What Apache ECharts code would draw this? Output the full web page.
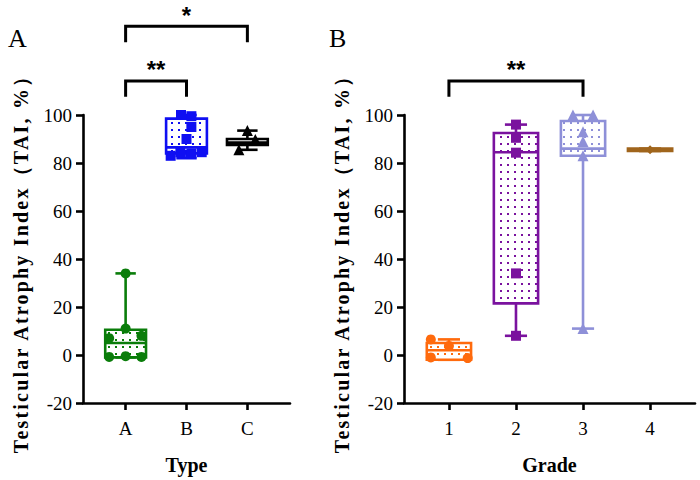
<!DOCTYPE html>
<html>
<head>
<meta charset="utf-8">
<script src="https://cdn.jsdelivr.net/npm/echarts@6/dist/echarts.min.js"></script>
<style>
  html, body { margin: 0; padding: 0; background: #fff; }
  #chart { width: 700px; height: 480px; }
</style>
</head>
<body>
<div id="chart"></div>
<script>
// categories
const typeCats = ['A', 'B', 'C'];
const gradeCats = ['1', '2', '3', '4'];

// box stats: [min, Q1, median, Q3, max]
const typeBoxes = [
  [-1, -1, 5, 10.5, 34],
  [82, 84, 86.5, 98.5, 100],
  [85.5, 87.5, 88.5, 90, 93.5]
];
const gradeBoxes = [
  [-2, -2, 2, 5, 6.5],
  [8, 21.5, 84.5, 92.5, 96],
  [11, 83, 86, 97.5, 100],
  [85, 85, 85.5, 86, 86]
];

// individual points: [position on axis, value]
const typeA = [[1, 34], [1, 11], [0.73, 7], [1.26, 8], [0.73, -0.8], [1, -0.5], [1.26, -0.8]];
const typeB = [[1.91, 100], [2.08, 99.5], [2.08, 95], [2, 90], [1.74, 83], [1.9, 84.5], [2.08, 84], [2.25, 84.5]];
const typeC = [[3, 93.5], [3.13, 89.8], [2.86, 85.5]];
const grade1 = [[0.73, 6.5], [1, 3.8], [1.28, -1.3], [0.73, -1]];
const grade2 = [[2, 96], [2, 90.5], [2, 84.3], [2, 34], [2, 8]];
const grade3 = [[2.85, 100], [3.15, 100], [3, 93], [3, 89], [3, 83], [3, 11]];
const grade4 = [[4, 85.5]];

// significance brackets: [from, to, leg bottom, bar height]
const typeSig = [[1, 2, 107.6, 114.2], [1, 3, 130.3, 137]];
const typeSigLabels = ['**', '*'];
const gradeSig = [[1, 3, 107.6, 114.2]];
const gradeSigLabels = ['**'];

const typeColors = ['#0a7d0a', '#0f0ff2', '#000000'];
const gradeColors = ['#ff6a0d', '#7a129e', '#8e90d8', '#a0651c'];

const SERIF = '"Liberation Serif", "Times New Roman", serif';
const Y_NAME = 'Testicular Atrophy Index（TAI, %）';

const chart = echarts.init(document.getElementById('chart'), null, { renderer: 'svg' });

const makePattern = (color) => {
  const c = document.createElement('canvas');
  c.width = 7;
  c.height = 7;
  const ctx = c.getContext('2d');
  ctx.fillStyle = '#fff';
  ctx.fillRect(0, 0, 7, 7);
  ctx.fillStyle = color;
  ctx.fillRect(3, 3, 2, 2);
  return { image: c, repeat: 'repeat' };
};

const boxRenderer = (colors, boxWidth) => {
  const patterns = colors.map(makePattern);
  return (params, api) => {
    const x = api.value(0);
    const pt = (v) => api.coord([x, v]);
    const lo = pt(api.value(1));
    const q1 = pt(api.value(2));
    const md = pt(api.value(3));
    const q3 = pt(api.value(4));
    const hi = pt(api.value(5));
    const w = api.size([boxWidth, 0])[0];
    const cx = lo[0];
    const color = colors[params.dataIndex];
    const line = (x1, y1, x2, y2) => ({
      type: 'line',
      shape: { x1, y1, x2, y2 },
      style: { stroke: color, lineWidth: 2.6 }
    });
    return {
      type: 'group',
      children: [
        line(cx, hi[1], cx, q3[1]),
        line(cx, q1[1], cx, lo[1]),
        line(cx - w / 4, hi[1], cx + w / 4, hi[1]),
        line(cx - w / 4, lo[1], cx + w / 4, lo[1]),
        {
          type: 'rect',
          shape: { x: cx - w / 2, y: q3[1], width: w, height: q1[1] - q3[1] },
          style: { fill: patterns[params.dataIndex], stroke: color, lineWidth: 2.6 }
        },
        line(cx - w / 2, md[1], cx + w / 2, md[1])
      ]
    };
  };
};

const bracketRenderer = (labels) => (params, api) => {
  const a = api.coord([api.value(0), api.value(2)]);
  const b = api.coord([api.value(0), api.value(3)]);
  const c = api.coord([api.value(1), api.value(3)]);
  const d = api.coord([api.value(1), api.value(2)]);
  return {
    type: 'group',
    children: [
      {
        type: 'polyline',
        shape: { points: [a, b, c, d] },
        style: { stroke: '#000', lineWidth: 3, fill: null }
      },
      {
        type: 'text',
        x: (b[0] + c[0]) / 2,
        y: b[1] - 23,
        style: {
          text: labels[params.dataIndex],
          font: 'bold 24px "Liberation Sans", Arial, sans-serif',
          fill: '#000',
          align: 'center',
          verticalAlign: 'top'
        }
      }
    ]
  };
};

const yAxis = (gridIndex) => ({
  type: 'value',
  gridIndex,
  min: -20,
  max: 100,
  interval: 20,
  name: Y_NAME,
  nameLocation: 'middle',
  nameGap: 52,
  nameTextStyle: { fontFamily: SERIF, fontWeight: 'bold', fontSize: 20, color: '#000' },
  axisLine: { show: true, onZero: false, lineStyle: { color: '#000', width: 2.6 } },
  axisTick: { show: true, length: 7, lineStyle: { color: '#000', width: 2.6 } },
  axisLabel: { fontFamily: SERIF, fontSize: 19, color: '#000', margin: 11 },
  splitLine: { show: false }
});

const xAxis = (gridIndex, cats, min, max, name) => {
  const ticks = cats.map((c, i) => i + 1);
  return {
    type: 'value',
    gridIndex,
    min,
    max,
    name,
    nameLocation: 'middle',
    nameGap: 52,
    nameTextStyle: { fontFamily: SERIF, fontWeight: 'bold', fontSize: 20, color: '#000' },
    axisLine: { show: true, onZero: false, lineStyle: { color: '#000', width: 2.6 } },
    axisTick: { show: true, length: 7, customValues: ticks, lineStyle: { color: '#000', width: 2.6 } },
    axisLabel: {
      customValues: ticks,
      formatter: (v) => cats[Math.round(v) - 1],
      fontFamily: SERIF, fontSize: 19, color: '#000', margin: 16
    },
    splitLine: { show: false }
  };
};

const points = (data, axis, symbol, size, color) => ({
  type: 'scatter',
  xAxisIndex: axis,
  yAxisIndex: axis,
  data,
  symbol,
  symbolSize: size,
  itemStyle: { color, opacity: 1 },
  silent: true,
  z: 5
});

chart.setOption({
  animation: false,
  title: [
    { text: 'A', left: 3, top: 20, textStyle: { fontFamily: SERIF, fontWeight: 'normal', fontSize: 26, color: '#000' } },
    { text: 'B', left: 324, top: 20, textStyle: { fontFamily: SERIF, fontWeight: 'normal', fontSize: 26, color: '#000' } }
  ],
  grid: [
    { left: 83, width: 207, top: 115, bottom: 75 },
    { left: 404, width: 291, top: 115, bottom: 75 }
  ],
  xAxis: [
    xAxis(0, typeCats, 0.3, 3.7, 'Type'),
    xAxis(1, gradeCats, 0.33, 4.67, 'Grade')
  ],
  yAxis: [yAxis(0), yAxis(1)],
  series: [
    {
      type: 'custom',
      xAxisIndex: 0,
      yAxisIndex: 0,
      data: typeBoxes.map((b, i) => [i + 1, ...b]),
      encode: { x: 0, y: [1, 2, 3, 4, 5] },
      renderItem: boxRenderer(typeColors, 0.67),
      silent: true,
      z: 3
    },
    {
      type: 'custom',
      xAxisIndex: 1,
      yAxisIndex: 1,
      data: gradeBoxes.map((b, i) => [i + 1, ...b]),
      encode: { x: 0, y: [1, 2, 3, 4, 5] },
      renderItem: boxRenderer(gradeColors, 0.66),
      silent: true,
      z: 3
    },
    points(typeA, 0, 'circle', 10, typeColors[0]),
    points(typeB, 0, 'rect', 10, typeColors[1]),
    points(typeC, 0, 'triangle', 11, typeColors[2]),
    points(grade1, 1, 'circle', 10, gradeColors[0]),
    points(grade2, 1, 'rect', 10, gradeColors[1]),
    points(grade3, 1, 'triangle', 11, gradeColors[2]),
    points(grade4, 1, 'diamond', 9, gradeColors[3]),
    {
      type: 'custom',
      xAxisIndex: 0,
      yAxisIndex: 0,
      data: typeSig,
      encode: { x: [0, 1], y: [2, 3] },
      renderItem: bracketRenderer(typeSigLabels),
      clip: false,
      silent: true,
      z: 6
    },
    {
      type: 'custom',
      xAxisIndex: 1,
      yAxisIndex: 1,
      data: gradeSig,
      encode: { x: [0, 1], y: [2, 3] },
      renderItem: bracketRenderer(gradeSigLabels),
      clip: false,
      silent: true,
      z: 6
    }
  ]
});

// the y axis titles are set with wide letter spacing
document.querySelectorAll('#chart svg text').forEach((t) => {
  if (t.textContent === Y_NAME) t.style.letterSpacing = '2.2px';
});
</script>
</body>
</html>
